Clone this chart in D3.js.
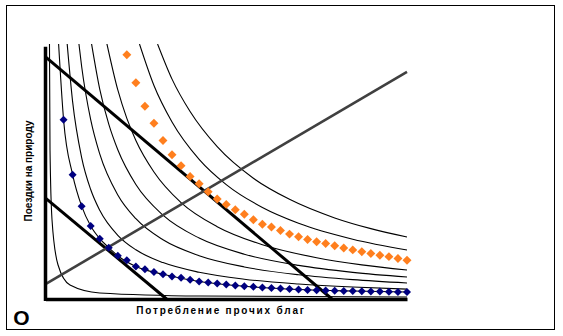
<!DOCTYPE html>
<html><head><meta charset="utf-8">
<script src="https://cdn.jsdelivr.net/npm/d3@7"></script>
<style>body{margin:0;background:#fff}</style>
</head><body>
<svg id="c" width="563" height="336"></svg>
<script>
// ---- data (in chart units) ----
const blueX = [2,3,4,5,6,7,8,9,10,11,12,13,14,15,16,17,18,19,20,21,22,23,24,25,26,27,28,29,30,31,32,33,34,35,36,37,38,39,40];
const blueY = [19.9,13.8,10.3,8.1,6.7,5.7,4.8,4.3,3.6,3.3,3.0,2.75,2.5,2.35,2.15,1.95,1.82,1.72,1.6,1.5,1.42,1.35,1.28,1.22,1.16,1.1,1.05,1.01,0.98,0.95,0.92,0.9,0.88,0.86,0.84,0.82,0.8,0.79,0.78];
const orangeX = [9,10,11,12,13,14,15,16,17,18,19,20,21,22,23,24,25,26,27,28,29,30,31,32,33,34,35,36,37,38,39,40];
const orangeY = [27.1,24.0,21.4,19.5,17.6,16.0,14.8,13.6,12.8,11.9,11.1,10.5,9.9,9.4,8.8,8.3,8.0,7.6,7.2,6.9,6.6,6.35,6.15,5.9,5.65,5.45,5.25,5.05,4.85,4.7,4.5,4.3];

// thin indifference curves: [x list, y list]
const curve1X = [0.44,0.5,0.72,1.38,2.71,6.0,17.1,40];
const curve1Y = [28.3,16.5,8.8,3.8,1.55,0.67,0.33,0.22];
const curve2X = [1.45,2,3,4,5,6,7,8,10,13,17,22,28,34,40];
const curve2Y = [28.3,19.9,13.8,10.3,8.1,6.7,5.7,4.8,3.6,2.75,1.95,1.42,1.05,0.88,0.78];
const curve3X = [2.4,3,4,5,6,8,10,13,17,22,28,34,40];
const curve3Y = [28.3,21.9,15.7,12.15,9.85,7.07,5.46,4.04,2.97,2.2,1.67,1.33,1.1];
const curve4X = [3.7,4,5,6,8,10,13,17,22,28,34,40];
const curve4Y = [28.3,25.8,19.9,16.1,11.55,8.91,6.57,4.81,3.56,2.69,2.15,1.78];
const curve5X = [5.1,6,7,8,10,13,17,22,28,34,40];
const curve5Y = [28.3,23.3,19.4,16.56,12.7,9.3,6.76,4.97,3.73,2.96,2.44];
const curve6X = [6.8,8,9,10,12,15,19,24,30,35,40];
const curve6Y = [28.3,23.2,20.05,17.6,14.1,10.7,8.03,6.02,4.58,3.79,3.22];
const curve8X = [10.4,12,14,17,20,24,28,34,40];
const curve8Y = [28.3,23.7,19.65,15.5,12.7,10.16,8.41,6.64,5.44];
const curve9X = [12.4,14,16,19,23,27,32,36,40];
const curve9Y = [28.3,24.4,20.8,16.9,13.4,11.06,9.0,7.81,6.88];

const budget1X = [0,31.7], budget1Y = [26.86,0];
const budget2X = [0,13.4], budget2Y = [11.2,0];
const pathX = [0,40], pathY = [1.66,25.2];

const yTitle = "Поездки на природу";
const xTitle = "Потребление прочих благ";
const originLabel = "O";

// ---- drawing ----
const zip = (a,b) => a.map((v,i)=>[v,b[i]]);
const svg = d3.select("#c");
svg.append("rect").attr("x",6.5).attr("y",5.5).attr("width",548).attr("height",324)
  .attr("fill","#fff").attr("stroke","#000").attr("stroke-width",1);

const x = d3.scaleLinear().domain([0,40]).range([45.5,407]);
const y = d3.scaleLinear().domain([0,28.3]).range([299,44]);

svg.append("clipPath").attr("id","clip").append("rect")
  .attr("x",45).attr("y",44).attr("width",364).attr("height",257);

const smooth = d3.line().x(d=>x(d[0])).y(d=>y(d[1])).curve(d3.curveMonotoneX);
const straight = d3.line().x(d=>x(d[0])).y(d=>y(d[1]));

const g = svg.append("g").attr("clip-path","url(#clip)");
const curves = [[curve1X,curve1Y],[curve2X,curve2Y],[curve3X,curve3Y],[curve4X,curve4Y],
  [curve5X,curve5Y],[curve6X,curve6Y],[curve8X,curve8Y],[curve9X,curve9Y]];
g.selectAll("path.ic").data(curves).join("path").attr("class","ic")
  .attr("d",d=>smooth(zip(d[0],d[1]))).attr("fill","none").attr("stroke","#000").attr("stroke-width",1.1);

// budget lines
[[budget1X,budget1Y],[budget2X,budget2Y]].forEach(b=>{
  svg.append("path").attr("d",straight(zip(b[0],b[1]))).attr("fill","none")
    .attr("stroke","#000").attr("stroke-width",3);
});
// income-consumption path
svg.append("path").attr("d",straight(zip(pathX,pathY))).attr("fill","none")
  .attr("stroke","#404040").attr("stroke-width",2.6);

// axes
const xAxis = svg.append("g").attr("transform",`translate(0,${y(0)})`)
  .call(d3.axisBottom(x).tickValues([]).tickSizeOuter(0));
const yAxis = svg.append("g").attr("transform",`translate(${x(0)},0)`)
  .call(d3.axisLeft(y).tickValues([]).tickSizeOuter(0));
[xAxis,yAxis].forEach(a=>a.select(".domain").attr("stroke","#000").attr("stroke-width",3.5));
yAxis.select(".domain").attr("d",`M0,${y(0)+2}V${y(28.0)}`);

// markers
const diamond = s => d3.symbol(d3.symbolSquare, s)();
svg.append("g").selectAll("path").data(zip(orangeX,orangeY)).join("path")
  .attr("d",diamond(40)).attr("fill","#ff7f1e")
  .attr("transform",d=>`translate(${x(d[0])},${y(d[1])}) rotate(45)`);
svg.append("g").selectAll("path").data(zip(blueX,blueY)).join("path")
  .attr("d",diamond(32)).attr("fill","#000080")
  .attr("transform",d=>`translate(${x(d[0])},${y(d[1])}) rotate(45)`);

// texts
svg.append("text").attr("transform","translate(32,171) rotate(-90)")
  .attr("text-anchor","middle").attr("font-family","Liberation Sans, Arial, sans-serif")
  .attr("font-weight","bold").attr("font-size",10).text(yTitle);
svg.append("text").attr("x",221).attr("y",314).attr("text-anchor","middle")
  .attr("font-family","Liberation Sans, Arial, sans-serif").attr("font-weight","bold")
  .attr("font-size",10).attr("letter-spacing","1.8px").text(xTitle);
svg.append("text").attr("x",21.5).attr("y",325).attr("text-anchor","middle")
  .attr("font-family","Liberation Sans, Arial, sans-serif").attr("font-weight","bold")
  .attr("font-size",21).text(originLabel);
</script>
</body></html>
